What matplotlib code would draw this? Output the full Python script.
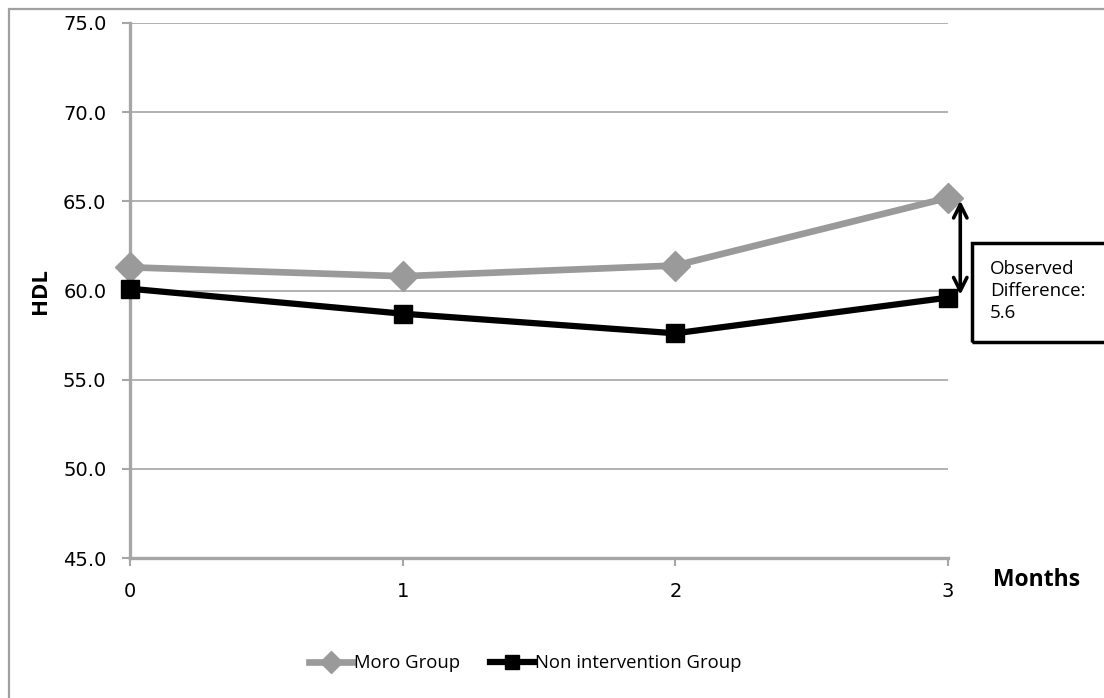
import matplotlib
matplotlib.use("Agg")
import matplotlib.pyplot as plt
from matplotlib.patches import Rectangle
from matplotlib.ticker import FormatStrFormatter

months = [0, 1, 2, 3]
moro = [61.3, 60.8, 61.4, 65.2]
non_int = [60.1, 58.7, 57.6, 59.6]
series_names = ["Moro Group", "Non intervention Group"]
diff_label = "Observed\nDifference:\n5.6"

W, H = 1104, 698
fig = plt.figure(figsize=(W / 100, H / 100), dpi=100)
ax = fig.add_axes([130 / W, 1 - 558 / H, 818 / W, 535 / H])

grey = "#9a9a9a"
ax.plot(months, moro, color=grey, lw=4.8, marker="D", ms=15,
        label=series_names[0], clip_on=False, zorder=3)
ax.plot(months, non_int, color="black", lw=4.5, marker="s", ms=12.5,
        label=series_names[1], clip_on=False, zorder=4)

ax.set_xlim(0, 3)
ax.set_ylim(45, 75)
ax.set_xticks(months)
ax.set_yticks([45, 50, 55, 60, 65, 70, 75])
ax.yaxis.set_major_formatter(FormatStrFormatter("%.1f"))
ax.grid(axis="y", color="#a6a6a6", lw=1.2)
ax.set_axisbelow(True)
for s in ["top", "right"]:
    ax.spines[s].set_visible(False)
for s in ["left", "bottom"]:
    ax.spines[s].set_color("#a6a6a6")
    ax.spines[s].set_linewidth(2.4)
ax.tick_params(axis="both", colors="#a6a6a6", width=1.5, length=6,
               labelcolor="black", labelsize=14)
ax.tick_params(axis="x", pad=11)
ax.tick_params(axis="y", pad=11)

fig.text(40 / W, 1 - 291 / H, "HDL", fontsize=16, fontweight="bold",
         family="Open Sans", rotation=90, ha="center", va="center")
fig.text(993 / W, 1 - 580 / H, "Months", fontsize=16.5, fontweight="bold",
         family="Open Sans", va="center", ha="left")

# double arrow showing difference at month 3
ax.annotate("", xy=(3.045, moro[3]), xytext=(3.045, non_int[3]),
            arrowprops=dict(arrowstyle="<->", color="black", lw=2.6,
                            mutation_scale=24),
            annotation_clip=False)

fig.patches.append(Rectangle((972 / W, 1 - 342 / H), 200 / W, 99 / H,
                             transform=fig.transFigure, fill=False,
                             edgecolor="black", lw=2.5, clip_on=False))
fig.text(990 / W, 1 - 291 / H, diff_label, fontsize=13.5, family="Open Sans",
         va="center", ha="left", linespacing=1.3)

# outer chart border
fig.patches.append(Rectangle((9 / W, -0.1), 1.2, 1 - 9 / H + 0.1,
                             transform=fig.transFigure, fill=False,
                             edgecolor="#a0a0a0", lw=1.6, clip_on=False))

fig.legend(loc="center", bbox_to_anchor=(525 / W, 1 - 663 / H), ncol=2,
           frameon=False, prop={"family": "Open Sans", "size": 13.3},
           handlelength=2.4, handletextpad=0.05, columnspacing=1.6,
           markerscale=0.75)

fig.savefig("out.png", dpi=100)
